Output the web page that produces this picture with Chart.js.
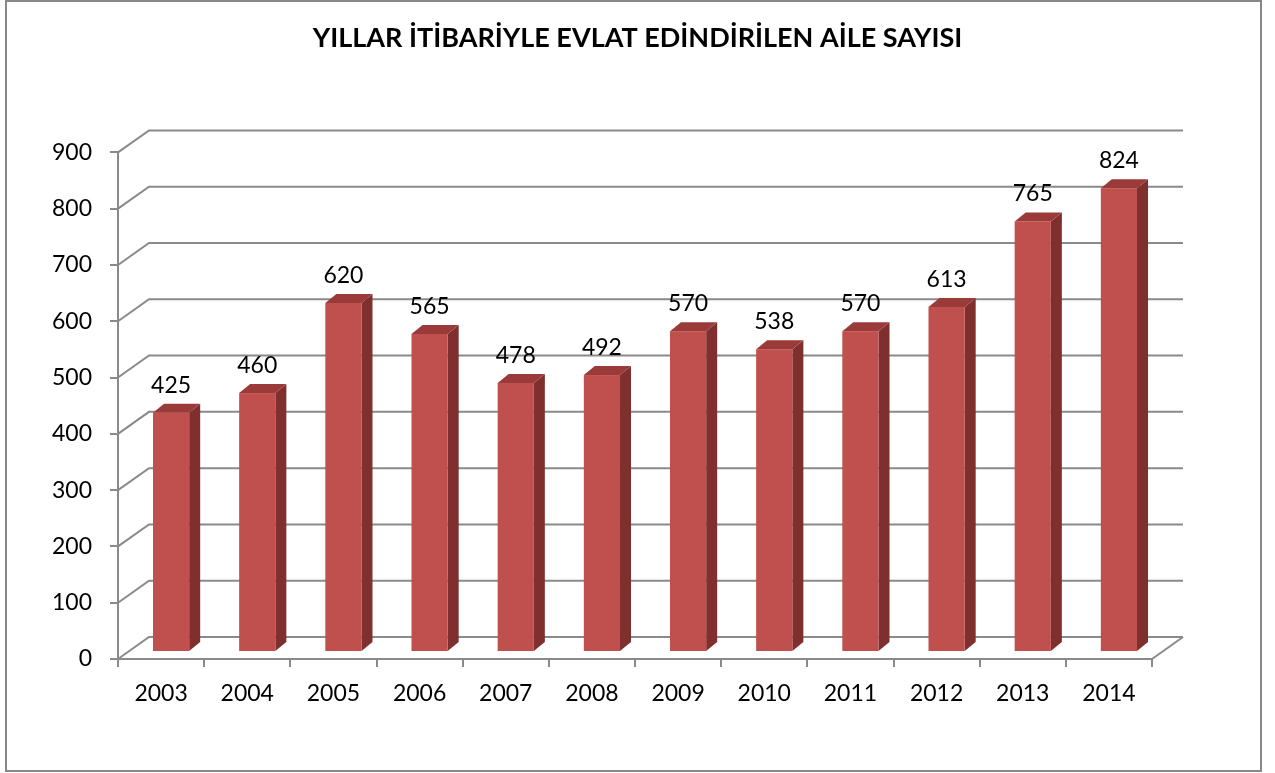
<!DOCTYPE html>
<html>
<head>
<meta charset="utf-8">
<script src="https://cdn.jsdelivr.net/npm/chart.js@4"></script>
<style>
  html, body { margin: 0; padding: 0; background: #fff; }
  #wrap { width: 1275px; height: 773px; }
</style>
</head>
<body>
<div id="wrap"><canvas id="myChart" width="1275" height="773"></canvas></div>
<script>
// chart data
const years = ['2003', '2004', '2005', '2006', '2007', '2008', '2009', '2010', '2011', '2012', '2013', '2014'];
const families = [425, 460, 620, 565, 478, 492, 570, 538, 570, 613, 765, 824];
const yMin = 0, yMax = 900, yStep = 100;
const chartTitle = 'YILLAR İTİBARİYLE EVLAT EDİNDİRİLEN AİLE SAYISI';

const FONT = 'Lato, "Open Sans", sans-serif';
const gridGray = '#8a8a8a';
// perspective offsets: back wall and bar depth
const depthX = 31, depthY = -22;
const barShiftX = 10, barShiftY = -7;
const barDx = 11, barDy = -9;

const frame = {
  id: 'frame',
  beforeDraw(chart) {
    const ctx = chart.ctx;
    ctx.save();
    ctx.strokeStyle = '#888';
    ctx.lineWidth = 2;
    ctx.strokeRect(6, 1, 1255, 770);
    ctx.restore();
  }
};

const grid3d = {
  id: 'grid3d',
  beforeDatasetsDraw(chart) {
    const ctx = chart.ctx;
    const y = chart.scales.y;
    const area = chart.chartArea;
    ctx.save();
    ctx.strokeStyle = gridGray;
    ctx.lineWidth = 2;
    y.ticks.forEach(t => {
      const py = y.getPixelForValue(t.value);
      ctx.beginPath();
      ctx.moveTo(area.left, py);
      ctx.lineTo(area.left + depthX, py + depthY);
      ctx.lineTo(area.right + depthX, py + depthY);
      ctx.stroke();
    });
    // floor right edge
    ctx.beginPath();
    ctx.moveTo(area.right, area.bottom);
    ctx.lineTo(area.right + depthX, area.bottom + depthY);
    ctx.stroke();
    ctx.restore();
  },
  afterDatasetsDraw(chart) {
    const ctx = chart.ctx;
    const meta = chart.getDatasetMeta(0);
    ctx.save();
    meta.data.forEach((bar, i) => {
      const w = bar.width;
      const x0 = bar.x - w / 2 + barShiftX;
      const x1 = bar.x + w / 2 + barShiftX;
      const top = bar.y + barShiftY;
      const base = bar.base + barShiftY;
      // side face
      ctx.fillStyle = '#7f302e';
      ctx.beginPath();
      ctx.moveTo(x1, base);
      ctx.lineTo(x1 + barDx, base + barDy);
      ctx.lineTo(x1 + barDx, top + barDy);
      ctx.lineTo(x1, top);
      ctx.closePath();
      ctx.fill();
      // top face
      ctx.fillStyle = '#9a3b39';
      ctx.beginPath();
      ctx.moveTo(x0, top);
      ctx.lineTo(x0 + barDx, top + barDy);
      ctx.lineTo(x1 + barDx, top + barDy);
      ctx.lineTo(x1, top);
      ctx.closePath();
      ctx.fill();
      // front face
      ctx.fillStyle = '#c0504d';
      ctx.fillRect(x0, top, w, base - top);
      // value label
      ctx.fillStyle = '#000';
      ctx.font = '23px ' + FONT;
      ctx.textAlign = 'center';
      ctx.textBaseline = 'bottom';
      ctx.fillText(String(families[i]), (x0 + x1) / 2, top + barDy - 7);
    });
    ctx.restore();
  }
};

new Chart(document.getElementById('myChart'), {
  type: 'bar',
  data: {
    labels: years,
    datasets: [{
      label: 'Aile sayısı',
      data: families,
      backgroundColor: 'rgba(0,0,0,0)',
      barPercentage: 0.42,
      categoryPercentage: 1.0
    }]
  },
  options: {
    responsive: false,
    animation: false,
    layout: { padding: 0 },
    plugins: {
      legend: { display: false },
      tooltip: { enabled: false },
      title: {
        display: true,
        text: chartTitle,
        color: '#000',
        font: { family: FONT, size: 27, weight: 'bold' },
        padding: { top: 22, bottom: 98 }
      }
    },
    scales: {
      x: {
        grid: { offset: true, drawOnChartArea: false, tickLength: 8, color: gridGray, lineWidth: 2 },
        border: { color: gridGray, width: 2 },
        ticks: { color: '#000', font: { family: FONT, size: 23 }, padding: 13, maxRotation: 0 },
        afterFit(s) { s.height = 114; }
      },
      y: {
        min: yMin,
        max: yMax,
        grid: { drawOnChartArea: false, tickLength: 8, color: gridGray, lineWidth: 2 },
        border: { color: gridGray, width: 2 },
        ticks: { stepSize: yStep, color: '#000', font: { family: FONT, size: 23 }, padding: 18 },
        afterFit(s) { s.width = 118; }
      },
      // empty right axis that only reserves space for the 3D depth
      yRight: {
        position: 'right',
        display: true,
        grid: { display: false },
        border: { display: false },
        ticks: { display: false },
        afterFit(s) { s.width = 123; }
      }
    }
  },
  plugins: [frame, grid3d]
});
</script>
</body>
</html>
